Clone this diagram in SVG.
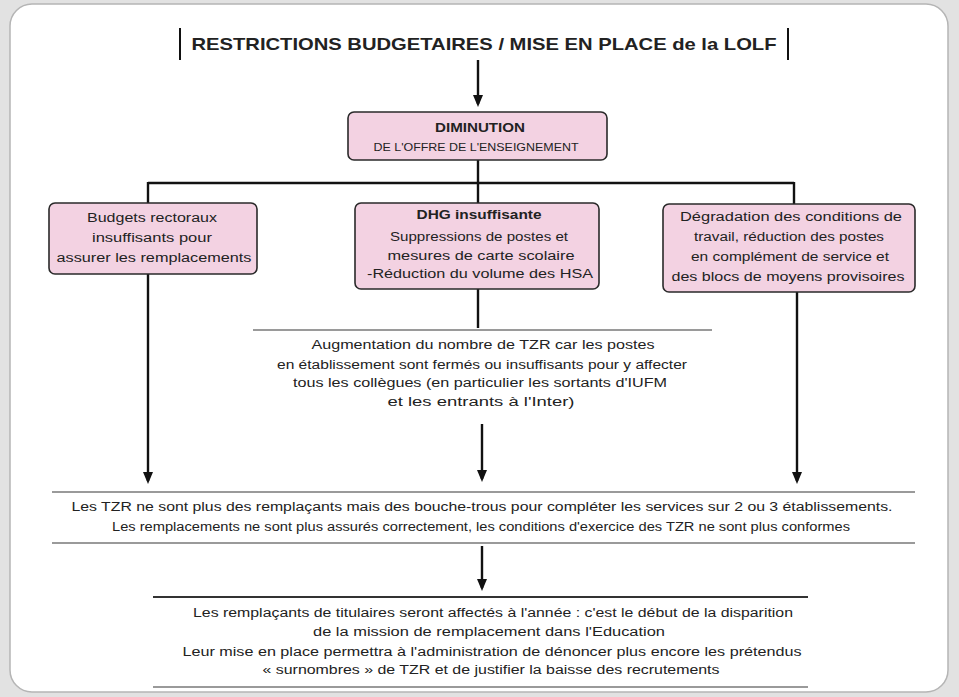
<svg xmlns="http://www.w3.org/2000/svg" width="959" height="697" viewBox="0 0 959 697">
<defs>
<marker id="ah" markerWidth="12" markerHeight="10" refX="9" refY="5" orient="auto" markerUnits="userSpaceOnUse" viewBox="0 0 12 10">
<path d="M0,0 L12,5 L0,10 Z" fill="#111"/>
</marker>
<style>
.t{font-family:"Liberation Sans Narrow","Liberation Sans",Arial,sans-serif;font-size:12.5px;fill:#222;text-anchor:middle;dominant-baseline:central}
.b{font-weight:bold}
.box{fill:#f3d2e2;stroke:#2a2a2a;stroke-width:1.6}
.rule{stroke:#9a9a9a;stroke-width:2;fill:none}
.c{stroke:#111;stroke-width:2.4;fill:none}
</style>
</defs>
<rect x="0" y="0" width="959" height="697" fill="#e2e2e2"/>
<rect x="10" y="4" width="938" height="688" rx="22" fill="#ffffff" stroke="#b5b5b5" stroke-width="1.5"/>

<g id="title">
<line x1="180" y1="28" x2="180" y2="60" stroke="#111" stroke-width="2"/>
<line x1="788" y1="28" x2="788" y2="60" stroke="#111" stroke-width="2"/>
<text class="t b" x="484" y="44" style="font-size:17px" textLength="585" lengthAdjust="spacingAndGlyphs">RESTRICTIONS BUDGETAIRES / MISE EN PLACE de la LOLF</text>
</g>

<g id="connectors">
<line class="c" x1="478" y1="60" x2="478" y2="104" marker-end="url(#ah)"/>
<line class="c" x1="478" y1="160" x2="478" y2="183"/>
<line class="c" x1="148" y1="183" x2="794" y2="183"/>
<line class="c" x1="148" y1="182" x2="148" y2="203"/>
<line class="c" x1="478" y1="182" x2="478" y2="203"/>
<line class="c" x1="794" y1="182" x2="794" y2="205"/>
<line class="c" x1="148" y1="274" x2="148" y2="481" marker-end="url(#ah)"/>
<line class="c" x1="478" y1="288" x2="478" y2="328"/>
<line class="c" x1="797" y1="292" x2="797" y2="481" marker-end="url(#ah)"/>
<line class="c" x1="482" y1="424" x2="482" y2="479" marker-end="url(#ah)"/>
<line class="c" x1="482" y1="546" x2="482" y2="588" marker-end="url(#ah)"/>
</g>

<g id="diminution">
<rect class="box" x="348" y="112" width="259" height="48" rx="6"/>
<text class="t b" x="480" y="128" textLength="90" lengthAdjust="spacingAndGlyphs">DIMINUTION</text>
<text class="t" x="476" y="147" style="font-size:11px" textLength="205" lengthAdjust="spacingAndGlyphs">DE L'OFFRE DE L'ENSEIGNEMENT</text>
</g>

<g id="budgets">
<rect class="box" x="49" y="203" width="208" height="71" rx="6"/>
<text class="t" x="152" y="218" textLength="130" lengthAdjust="spacingAndGlyphs">Budgets rectoraux</text>
<text class="t" x="152" y="238" textLength="120" lengthAdjust="spacingAndGlyphs">insuffisants pour</text>
<text class="t" x="154" y="258" textLength="195" lengthAdjust="spacingAndGlyphs">assurer les remplacements</text>
</g>

<g id="dhg">
<rect class="box" x="355" y="203" width="244" height="86" rx="6"/>
<text class="t b" x="479" y="215" textLength="125" lengthAdjust="spacingAndGlyphs">DHG insuffisante</text>
<text class="t" x="479" y="237" textLength="178" lengthAdjust="spacingAndGlyphs">Suppressions de postes et</text>
<text class="t" x="481" y="256" textLength="187" lengthAdjust="spacingAndGlyphs">mesures de carte scolaire</text>
<text class="t" x="480" y="274" textLength="226" lengthAdjust="spacingAndGlyphs">-Réduction du volume des HSA</text>
</g>

<g id="degradation">
<rect class="box" x="663" y="204" width="252" height="88" rx="6"/>
<text class="t" x="791" y="217" textLength="222" lengthAdjust="spacingAndGlyphs">Dégradation des conditions de</text>
<text class="t" x="789" y="237" textLength="190" lengthAdjust="spacingAndGlyphs">travail, réduction des postes</text>
<text class="t" x="790" y="257" textLength="198" lengthAdjust="spacingAndGlyphs">en complément de service et</text>
<text class="t" x="788" y="277" textLength="233" lengthAdjust="spacingAndGlyphs">des blocs de moyens provisoires</text>
</g>

<g id="augmentation">
<line class="rule" x1="253" y1="330" x2="712" y2="330"/>
<text class="t" x="483" y="345" textLength="343" lengthAdjust="spacingAndGlyphs">Augmentation du nombre de TZR car les postes</text>
<text class="t" x="482" y="365" textLength="410" lengthAdjust="spacingAndGlyphs">en établissement sont fermés ou insuffisants pour y affecter</text>
<text class="t" x="480" y="383" textLength="374" lengthAdjust="spacingAndGlyphs">tous les collègues (en particulier les sortants d'IUFM</text>
<text class="t" x="481" y="402" textLength="187" lengthAdjust="spacingAndGlyphs">et les entrants à l'Inter)</text>
</g>

<g id="tzr">
<line class="rule" x1="52" y1="492" x2="915" y2="492"/>
<text class="t" x="482" y="507" textLength="821" lengthAdjust="spacingAndGlyphs">Les TZR ne sont plus des remplaçants mais des bouche-trous pour compléter les services sur 2 ou 3 établissements.</text>
<text class="t" x="481" y="527" textLength="738" lengthAdjust="spacingAndGlyphs">Les remplacements ne sont plus assurés correctement, les conditions d'exercice des TZR ne sont plus conformes</text>
<line class="rule" x1="52" y1="543" x2="915" y2="543"/>
</g>

<g id="consequences">
<line x1="153" y1="597" x2="808" y2="597" stroke="#333" stroke-width="2.2"/>
<text class="t" x="493" y="613" textLength="600" lengthAdjust="spacingAndGlyphs">Les remplaçants de titulaires seront affectés à l'année : c'est le début de la disparition</text>
<text class="t" x="489" y="632" textLength="352" lengthAdjust="spacingAndGlyphs">de la mission de remplacement dans l'Education</text>
<text class="t" x="492" y="652" textLength="619" lengthAdjust="spacingAndGlyphs">Leur mise en place permettra à l'administration de dénoncer plus encore les prétendus</text>
<text class="t" x="491" y="670" textLength="457" lengthAdjust="spacingAndGlyphs">« surnombres » de TZR et de justifier la baisse des recrutements</text>
<line class="rule" x1="153" y1="687" x2="808" y2="687"/>
</g>
</svg>
